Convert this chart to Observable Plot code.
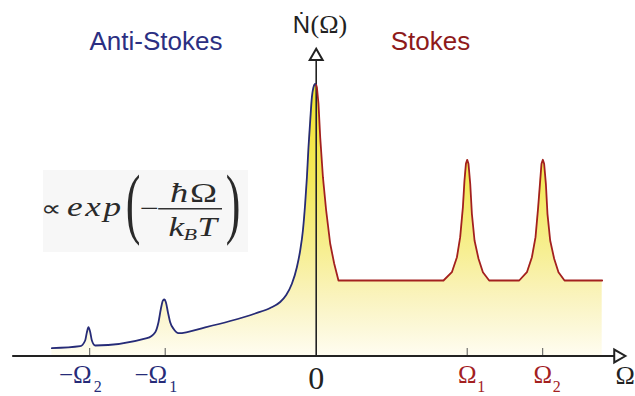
<!DOCTYPE html>
<html><head><meta charset="utf-8">
<script src="https://cdn.jsdelivr.net/npm/d3@7"></script>
<script src="https://cdn.jsdelivr.net/npm/@observablehq/plot@0.6"></script>
<style>html,body{margin:0;padding:0;background:#fff;} svg{display:block}</style>
</head><body><div id="chart"></div>
<script>
// x in units where Ω1 = 2 and Ω2 = 3 ; y is the photon rate (arbitrary units)
const antiStokesX = [-3.501,-3.126,-3.060,-3.037,-3.016,-2.993,-2.971,-2.927,-2.242,-2.132,-2.089,-2.057,-2.030,-2.010,-1.991,-1.964,-1.934,-1.890,-1.824,-1.470,-1.139,-0.808,-0.609,-0.477,-0.397,-0.322,-0.256,-0.212,-0.176,-0.146,-0.123,-0.102,-0.079,-0.057,-0.036,-0.013,0];
const antiStokesY = [7.8,9.8,15.5,23.8,28.8,23.8,15.5,10.5,17.8,23.8,33.8,47.2,55.5,56.5,53.8,43.8,33.8,27.2,22.8,28.7,35,42.5,48,54,61,72.2,88.8,105.5,125.5,152.5,178.8,208.8,235.5,258.8,268.8,272,271];
const stokesX = [0,0.009,0.030,0.053,0.089,0.132,0.185,0.238,0.295,1.686,1.797,1.864,1.907,1.943,1.964,1.983,2.000,2.017,2.040,2.062,2.097,2.150,2.208,2.291,2.689,2.791,2.857,2.905,2.940,2.967,2.984,3.002,3.019,3.042,3.063,3.099,3.152,3.209,3.289,3.788];
const stokesY = [271,268.8,252.5,218.8,178.8,145.5,112.5,92.5,75.5,75.5,83.8,98.8,118.8,148.8,175.5,192.2,196.2,192.2,172.2,142.2,115.5,97.2,83.8,75.5,75.5,83.8,98.8,118.8,148.8,175.5,192.2,196.2,192.2,172.2,142.2,115.5,97.2,83.8,75.5,75.5];

const negTicks = [-3, -2];
const negTickLabels = ["−Ω", "−Ω"];
const negTickSubs = ["2", "1"];
const posTicks = [2, 3];
const posTickLabels = ["Ω", "Ω"];
const posTickSubs = ["1", "2"];

const navy = "#262b78", red = "#a3201f", ink = "#222";

const anti = antiStokesX.map((x, i) => ({x, y: antiStokesY[i]}));
const stokes = stokesX.map((x, i) => ({x, y: stokesY[i]}));

// formula annotation pieces (positions in chart coordinates)
const fxParts = [
  {t: "∝", x: -3.505, y: 140.5, size: 22, style: "normal", anchor: "middle"},
  {t: "exp", x: -3.300, y: 140.5, size: 27, style: "italic", anchor: "start"},
  {t: "−", x: -2.208, y: 139, size: 26, style: "normal", anchor: "middle"},
  {t: "ħ", x: -1.935, y: 153.8, size: 28, style: "italic", anchor: "start"},
  {t: "Ω", x: -1.672, y: 153.8, size: 28, style: "normal", anchor: "start"},
  {t: "k", x: -1.956, y: 120.5, size: 27, style: "italic", anchor: "start"},
  {t: "B", x: -1.757, y: 116.5, size: 17, style: "italic", anchor: "start"},
  {t: "T", x: -1.572, y: 120.5, size: 27, style: "italic", anchor: "start"}
];
const parens = [{t: "(", x: -2.426, y: 152.5}, {t: ")", x: -1.102, y: 152.5}];

const marks = [
  Plot.rect([{x1: -3.612, x2: -0.897, y1: 103.5, y2: 185.5}], {x1: "x1", x2: "x2", y1: "y1", y2: "y2", fill: "#f7f7f7"}),
  Plot.areaY(anti, {x: "x", y: "y", curve: "monotone-x", fill: "url(#yellowFill)"}),
  Plot.areaY(stokes, {x: "x", y: "y", curve: "linear", fill: "url(#yellowFill)"}),
  Plot.ruleX(negTicks.concat(posTicks), {y1: 0, y2: 7.5, stroke: "#555", strokeWidth: 1}),
  Plot.ruleY([0], {x1: -4.02, x2: 3.99, stroke: ink, strokeWidth: 2}),
  Plot.ruleX([0], {y1: 0, y2: 299, stroke: ink, strokeWidth: 1.6}),
  Plot.line(anti, {x: "x", y: "y", curve: "monotone-x", stroke: navy, strokeWidth: 1.8, strokeLinejoin: "round"}),
  Plot.line(stokes, {x: "x", y: "y", curve: "linear", stroke: red, strokeWidth: 1.8, strokeLinejoin: "round"}),
  Plot.dot([{x: 3.997, y: 0}], {x: "x", y: "y", symbol: "triangle", rotate: 90, r: 4.8, fill: "white", stroke: ink, strokeWidth: 2}),
  Plot.dot([{x: 0, y: 299.7}], {x: "x", y: "y", symbol: "triangle", r: 4.8, fill: "white", stroke: ink, strokeWidth: 2}),
  // region titles
  Plot.text(["Anti-Stokes"], {x: -2.122, y: 306, text: d => d, fill: "#2b2f82", fontSize: 26, fontFamily: "Liberation Sans", lineAnchor: "bottom"}),
  Plot.text(["Stokes"], {x: 1.513, y: 306, text: d => d, fill: "#8e1a1a", fontSize: 26, fontFamily: "Liberation Sans", lineAnchor: "bottom"}),
  // y-axis label
  Plot.text(["Ṅ"], {x: -0.08, y: 323.5, text: d => d, fill: ink, fontSize: 24, fontFamily: "Liberation Sans", textAnchor: "end", lineAnchor: "bottom"}),
  Plot.text(["(Ω)"], {x: -0.075, y: 323.5, text: d => d, fill: ink, fontSize: 26, fontFamily: "Liberation Serif", textAnchor: "start", lineAnchor: "bottom"}),
  // tick labels
  Plot.text(negTicks, {x: d => d, y: -27, text: (d, i) => negTickLabels[i], fill: navy, fontSize: 25, fontFamily: "Liberation Serif", textAnchor: "end", lineAnchor: "bottom", dx: 2}),
  Plot.text(negTicks, {x: d => d, y: -35.5, text: (d, i) => negTickSubs[i], fill: navy, fontSize: 16, fontFamily: "Liberation Serif", textAnchor: "start", lineAnchor: "bottom", dx: 4}),
  Plot.text(posTicks, {x: d => d, y: -27, text: (d, i) => posTickLabels[i], fill: red, fontSize: 25, fontFamily: "Liberation Serif", textAnchor: "middle", lineAnchor: "bottom"}),
  Plot.text(posTicks, {x: d => d, y: -35.5, text: (d, i) => posTickSubs[i], fill: red, fontSize: 16, fontFamily: "Liberation Serif", textAnchor: "start", lineAnchor: "bottom", dx: 10}),
  Plot.text(["0"], {x: 0, y: -32.5, text: d => d, fill: ink, fontSize: 32, fontFamily: "Liberation Serif", lineAnchor: "bottom"}),
  Plot.text(["Ω"], {x: 3.964, y: -27.5, text: d => d, fill: ink, fontSize: 26, fontFamily: "Liberation Serif", textAnchor: "start", lineAnchor: "bottom"}),
  // formula
  Plot.ruleY([147.2], {x1: -2.086, x2: -1.241, stroke: "#333", strokeWidth: 1.4}),
  ...fxParts.map(p => Plot.text([p], {x: "x", y: "y", text: "t", fill: "#2a2a2a", fontSize: p.size, fontStyle: p.style, fontFamily: "Liberation Serif", textAnchor: p.anchor, lineAnchor: "bottom"})),
  Plot.text(parens, {x: "x", y: "y", text: "t", fill: "#2a2a2a", fontSize: 44, fontFamily: "Liberation Serif"})
];

const svg = Plot.plot({
  width: 635, height: 396,
  x: {domain: [-4, 4], range: [315.7 - 302, 315.7 + 302], axis: null},
  y: {domain: [0, 300], range: [355.5, 55.5], axis: null},
  style: {background: "white", overflow: "visible"},
  marks
});

const defs = d3.select(svg).insert("defs", ":first-child");
const grad = defs.append("linearGradient").attr("id", "yellowFill").attr("x1", 0).attr("y1", 0).attr("x2", 0).attr("y2", 1);
[[0, "#f2e52e"], [0.35, "#f4e95a"], [0.62, "#f7ef94"], [0.78, "#faf3bd"], [0.9, "#fcf8d9"], [1, "#fffdf1"]]
  .forEach(([o, c]) => grad.append("stop").attr("offset", o).attr("stop-color", c));

const fxTexts = new Set(fxParts.map(p => p.t));
const parenTexts = new Set(parens.map(p => p.t));
function scaleText(el, sx, sy) {
  let t = el.getAttribute("transform");
  if (!t) {
    const x = parseFloat(el.getAttribute("x")) || 0;
    const yAttr = el.getAttribute("y") || "0";
    const y = yAttr.endsWith("em") ? 0 : (parseFloat(yAttr) || 0);
    el.setAttribute("x", 0);
    if (!yAttr.endsWith("em")) el.setAttribute("y", 0);
    t = `translate(${x},${y})`;
  }
  el.setAttribute("transform", `${t} scale(${sx},${sy})`);
}
// formula pieces only (skip the axis-end Ω, which is a separate mark)
svg.querySelectorAll("text").forEach(el => {
  const s = el.textContent;
  const inFormula = el.closest("g") && el.closest("g").getAttribute("fill") === "#2a2a2a";
  if (fxTexts.has(s) && inFormula) {
    scaleText(el, 1.3, 1);
    if (s === "exp") el.setAttribute("letter-spacing", 2);
  } else if (parenTexts.has(s)) {
    scaleText(el, 1, 1.8);
  }
});

document.getElementById("chart").appendChild(svg);
</script>
</body></html>
